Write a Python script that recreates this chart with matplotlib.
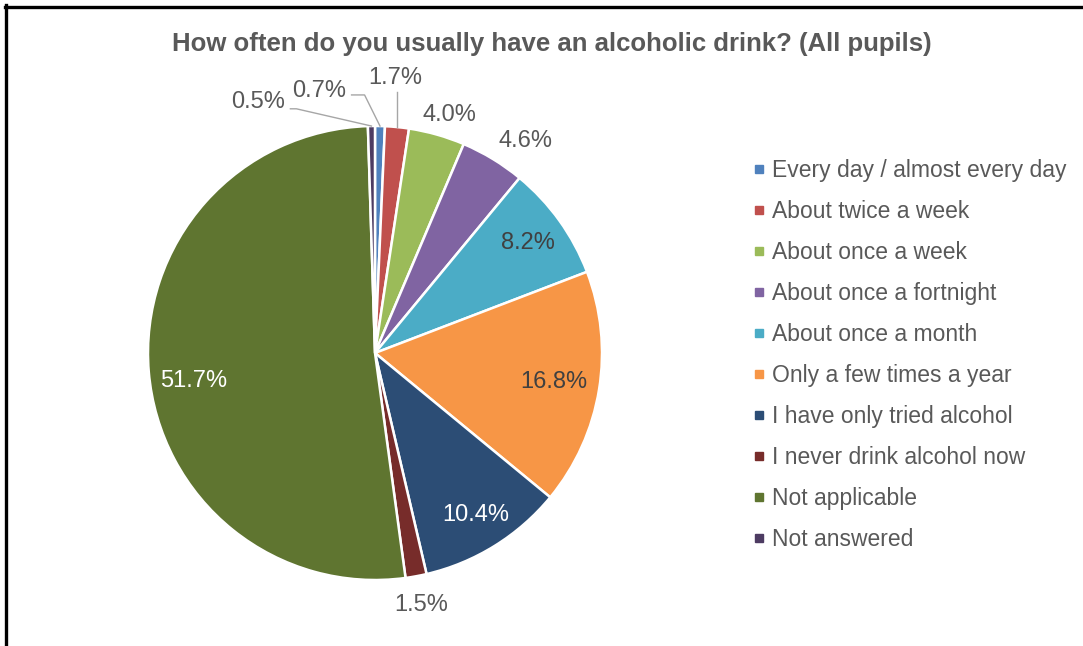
import numpy as np
import matplotlib
matplotlib.use("Agg")
import matplotlib.pyplot as plt
from matplotlib.lines import Line2D

categories = ["Every day / almost every day", "About twice a week", "About once a week",
              "About once a fortnight", "About once a month", "Only a few times a year",
              "I have only tried alcohol", "I never drink alcohol now", "Not applicable",
              "Not answered"]
values = [0.7, 1.7, 4.0, 4.6, 8.2, 16.8, 10.4, 1.5, 51.7, 0.5]
colors = ["#4F81BD", "#C0504D", "#9BBB59", "#8064A2", "#4BACC6", "#F79646",
          "#2C4D75", "#772C2A", "#5F7530", "#4D3B62"]
title = "How often do you usually have an alcoholic drink? (All pupils)"

W, H = 1083, 646
fig = plt.figure(figsize=(W / 100, H / 100), dpi=100)
ax = fig.add_axes([0, 0, 1, 1])
ax.set_xlim(0, W)
ax.set_ylim(0, H)
ax.axis("off")

cx, cy, R = 375, H - 353, 227
wedges, _ = ax.pie(values, colors=colors, startangle=90, counterclock=False,
                   center=(cx, cy), radius=R, normalize=True,
                   wedgeprops=dict(edgecolor="white", linewidth=1.8))
ax.set_xlim(0, W)
ax.set_ylim(0, H)
ax.set_aspect("equal")

grey = "#595959"
font = "Liberation Sans"

# label placement: (clockwise angle offset deg, radial factor, text colour, leader)
place = [
    (-13.2, 1.18, grey, "elbow"),   # 0.7
    (-1.4, 1.215, grey, "vert"),    # 1.7
    (1.6, 1.10, grey, None),        # 4.0
    (4.0, 1.145, grey, None),       # 4.6
    (0.0, 0.83, "#404040", None),   # 8.2
    (0.0, 0.80, "#404040", None),   # 16.8
    (0.0, 0.84, "white", None),     # 10.4
    (0.0, 1.13, grey, None),        # 1.5
    (-4.0, 0.81, "white", None),    # 51.7
    (-24.0, 1.22, grey, "elbow"),   # 0.5
]

for w, v, (doff, rf, col, leader) in zip(wedges, values, place):
    mid = 0.5 * (w.theta1 + w.theta2)
    th = np.deg2rad(mid - doff)
    tx = cx + rf * R * np.cos(th)
    ty = cy + rf * R * np.sin(th)
    ax.text(tx, ty, f"{v:.1f}%", ha="center", va="center", fontsize=17,
            color=col, family=font)
    if leader:
        thm = np.deg2rad(mid)
        ex, ey = cx + R * np.cos(thm), cy + R * np.sin(thm)
        if leader == "vert":
            ax.plot([ex, ex], [ey, ty - 14], color="#A6A6A6", lw=1)
        else:
            sx = tx + 32
            if v > 0.6:
                sy = ty - 4
                ax.plot([sx, sx + 13, ex], [sy, sy, ey], color="#A6A6A6", lw=1)
            else:
                sy = ty - 7
                ax.plot([sx, sx + 6, ex], [sy, sy, ey], color="#A6A6A6", lw=1)

ax.text(552, H - 44, title, ha="center", va="center", fontsize=18.5,
        fontweight="bold", color=grey, family=font)

handles = [Line2D([], [], marker="s", linestyle="none", markersize=6,
                  markerfacecolor=c, markeredgecolor=c) for c in colors]
leg = fig.legend(handles, categories, loc="upper left",
                 bbox_to_anchor=(753 / W, (H - 159) / H), frameon=False,
                 prop=dict(family=font, size=16.5), labelcolor=grey,
                 handlelength=0.5, handletextpad=0.35, labelspacing=0.785,
                 borderpad=0, borderaxespad=0)

# outer frame (top and left edges visible)
fig.add_artist(Line2D([5 / W, 1], [(H - 7) / H, (H - 7) / H], color="black", lw=2.4,
                      transform=fig.transFigure))
fig.add_artist(Line2D([6 / W, 6 / W], [0, (H - 5) / H], color="black", lw=2.4,
                      transform=fig.transFigure))

fig.savefig("out.png", dpi=100, facecolor="white")
